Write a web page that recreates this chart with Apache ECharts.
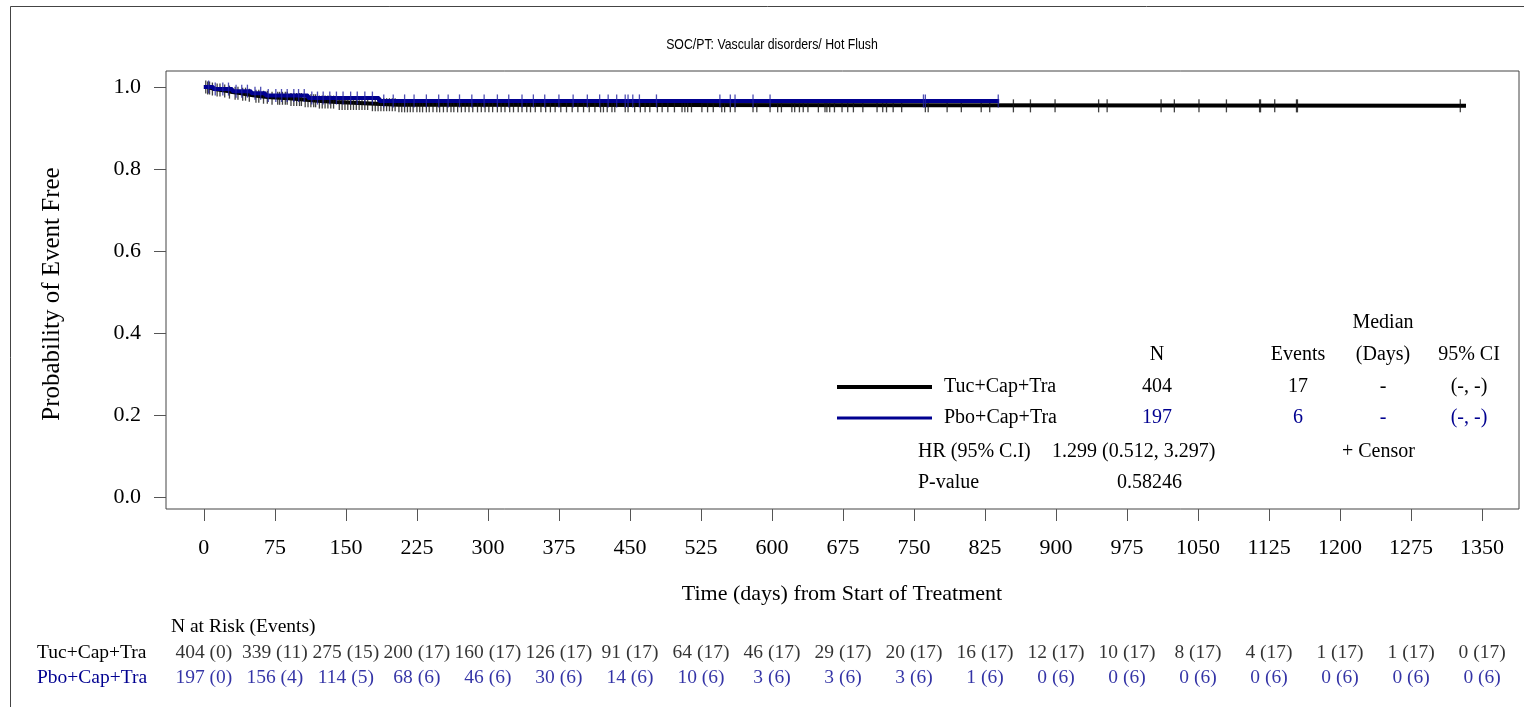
<!DOCTYPE html>
<html><head><meta charset="utf-8">
<script src="https://cdn.jsdelivr.net/npm/echarts@6/dist/echarts.min.js"></script>
<style>html,body{margin:0;padding:0;background:#fff}#c{width:1524px;height:707px}</style>
</head><body><div id="c"></div>
<script>
const chartTitle = 'SOC/PT: Vascular disorders/ Hot Flush';
const groupNames = ['Tuc+Cap+Tra', 'Pbo+Cap+Tra'];
const xTicks = [0,75,150,225,300,375,450,525,600,675,750,825,900,975,1050,1125,1200,1275,1350];
const yTicks = [0,0.2,0.4,0.6,0.8,1.0];

// KM step curves (event times and survival after each event)
const tucTimes = [0,3,8,12,18,25,30,38,45,52,60,70,90,105,120,140,175,205,1333];
const tucSurv  = [1,0.9975,0.9950,0.9925,0.9900,0.9875,0.9850,0.9825,0.9800,0.9775,0.9750,0.9724,0.9694,0.9663,0.9631,0.9598,0.9568,0.9540,0.9540];
const pboTimes = [0,10,30,50,65,110,185,840];
const pboSurv  = [1,0.9949,0.9898,0.9846,0.9793,0.9730,0.9660,0.9660];

// censor times
const tucCensor = [2,4,6,9,14,17,22,27,33,36,41,44,48,55,58,63,67,72,78,80,83,86,88,92,95,98,101,103,107,110,113,116,118,122,125,128,131,134,137,143,146,149,152,155,158,161,164,167,170,173,178,181,184,187,190,193,196,199,202,
206,209,212,215,218,221,225,228,231,235,238,242,246,249,253,257,261,264,268,272,276,280,284,289,293,297,301,305,310,314,318,323,327,332,336,341,345,350,356,361,366,371,377,383,389,395,401,407,413,419,
422,426,431,434,445,448,455,461,466,471,479,484,490,497,505,508,511,515,526,532,538,547,550,556,561,580,584,598,606,610,621,624,629,633,638,649,656,658,661,666,674,680,686,696,711,717,721,728,737,762,765,785,800,821,830,
855,873,899,945,954,1011,1025,1051,1080,1115,1116,1131,1154,1155,1327];
const pboCensor = [5,12,20,26,34,40,46,54,60,68,76,82,88,95,100,106,114,120,126,133,140,147,155,162,170,178,190,200,212,222,235,248,258,270,283,296,310,322,336,348,360,375,390,405,418,
427,436,445,448,453,460,478,545,556,561,580,598,760,762,839];

// risk table
const tucAtRisk = [404,339,275,200,160,126,91,64,46,29,20,16,12,10,8,4,1,1,0];
const tucEvents = [0,11,15,17,17,17,17,17,17,17,17,17,17,17,17,17,17,17,17];
const pboAtRisk = [197,156,114,68,46,30,14,10,3,3,3,1,0,0,0,0,0,0,0];
const pboEvents = [0,4,5,6,6,6,6,6,6,6,6,6,6,6,6,6,6,6,6];

// legend table texts
const legendN = [404, 197];
const legendEvents = [17, 6];
const legendMedian = ['-', '-'];
const legendCI = ['(-, -)', '(-, -)'];
const hrText = '1.299 (0.512, 3.297)';
const pText = '0.58246';

const BLACK = '#000000';
const BLUE = '#000090';
const SERIF = '"Liberation Serif", "Times New Roman", serif';
const SANS = '"Liberation Sans", Arial, sans-serif';

function survAt(times, surv, t) {
  let s = surv[0];
  for (let i = 0; i < times.length; i++) { if (times[i] <= t) s = surv[i]; }
  return s;
}
const kmData = (times, surv) => times.map((t, i) => [t, surv[i]]);
const censorData = (c, times, surv) => c.map(t => [t, survAt(times, surv, t)]);

const XMIN = -40, XMAX = 1389;
const riskFont = 19.5;
const tblFont = 20;

const riskSeries = (atRisk, events, row, color) => ({
  type: 'scatter', xAxisIndex: 1, yAxisIndex: 1, symbolSize: 0, silent: true,
  data: xTicks.map((t, i) => [t, row, atRisk[i] + ' (' + events[i] + ')']),
  label: { show: true, position: 'inside', formatter: p => p.data[2], color: color, fontFamily: SERIF, fontSize: riskFont }
});

const chart = echarts.init(document.getElementById('c'), null, { renderer: 'canvas', width: 1524, height: 707 });

const colX = { n: 1157, ev: 1298, med: 1383, ci: 1469 };
const rowY = [387, 418];
const T = (x, y, text, o, extra) => Object.assign({ type: 'text', x: x, y: y, style: Object.assign({ text: text, fontFamily: SERIF, fontSize: tblFont, fill: '#000', textAlign: 'center', textVerticalAlign: 'middle' }, o || {}) }, extra || {});

const graphics = [
  { type: 'rect', z: -10, shape: { x: 10.5, y: 6.5, width: 1600, height: 800 }, style: { fill: 'none', stroke: '#444', lineWidth: 1 } },
  T(772, 45, chartTitle, { fontFamily: SANS, fontSize: 15 }, { scaleX: 0.82 }),
  T(52, 294, 'Probability of Event Free', { fontSize: 25 }, { rotation: Math.PI / 2 }),
  T(842, 594, 'Time (days) from Start of Treatment', { fontSize: 22 }),
  T(171, 627, 'N at Risk (Events)', { textAlign: 'left', fontSize: riskFont }),
  T(colX.med, 323, 'Median'),
  T(colX.n, 355, 'N'),
  T(colX.ev, 355, 'Events'),
  T(colX.med, 355, '(Days)'),
  T(colX.ci, 355, '95% CI'),
  { type: 'line', shape: { x1: 837, y1: rowY[0], x2: 932, y2: rowY[0] }, style: { stroke: BLACK, lineWidth: 4 } },
  { type: 'line', shape: { x1: 837, y1: rowY[1], x2: 932, y2: rowY[1] }, style: { stroke: BLUE, lineWidth: 3 } },
  T(918, 452, 'HR (95% C.I)', { textAlign: 'left' }),
  T(1052, 452, hrText, { textAlign: 'left' }),
  T(1342, 452, '+ Censor', { textAlign: 'left' }),
  T(918, 483, 'P-value', { textAlign: 'left' }),
  T(1117, 483, pText, { textAlign: 'left' })
];
[0, 1].forEach(i => {
  const c = i === 0 ? '#000' : BLUE;
  graphics.push(T(944, rowY[i], groupNames[i], { textAlign: 'left' }));
  graphics.push(T(colX.n, rowY[i], String(legendN[i]), { fill: c }));
  graphics.push(T(colX.ev, rowY[i], String(legendEvents[i]), { fill: c }));
  graphics.push(T(colX.med, rowY[i], legendMedian[i], { fill: c }));
  graphics.push(T(colX.ci, rowY[i], legendCI[i], { fill: c }));
});

chart.setOption({
  animation: false,
  backgroundColor: '#fff',
  grid: [
    { left: 166, top: 71, right: 5, bottom: 198, show: true, borderColor: '#444', borderWidth: 1, backgroundColor: 'transparent' },
    { left: 166, top: 640, right: 5, height: 50, show: false }
  ],
  xAxis: [
    { type: 'value', gridIndex: 0, min: XMIN, max: XMAX, splitLine: { show: false }, axisLine: { show: false, onZero: false },
      axisTick: { show: true, customValues: xTicks, length: 12, inside: false, lineStyle: { color: '#555' } },
      axisLabel: { customValues: xTicks, margin: 28, fontFamily: SERIF, fontSize: 22, color: '#000', formatter: v => String(v) } },
    { type: 'value', gridIndex: 1, min: XMIN, max: XMAX, show: false }
  ],
  yAxis: [
    { type: 'value', gridIndex: 0, min: -0.0293, max: 1.039, splitLine: { show: false }, axisLine: { show: false, onZero: false },
      axisTick: { show: true, customValues: yTicks, length: 12, inside: false, lineStyle: { color: '#555' } },
      axisLabel: { customValues: yTicks, margin: 25, fontFamily: SERIF, fontSize: 22, color: '#000', formatter: v => v.toFixed(1) } },
    { type: 'category', gridIndex: 1, data: groupNames, inverse: true, axisLine: { show: false }, axisTick: { show: false }, splitLine: { show: false },
      axisLabel: { interval: 0, hideOverlap: false, margin: 129, align: 'left', fontFamily: SERIF, fontSize: riskFont, color: (v, i) => (i === 0 ? '#000' : BLUE) } }
  ],
  series: [
    { type: 'line', name: groupNames[0], step: 'end', data: kmData(tucTimes, tucSurv), showSymbol: false, symbol: 'none', lineStyle: { color: BLACK, width: 4 }, z: 2 },
    { type: 'scatter', data: censorData(tucCensor, tucTimes, tucSurv), symbol: 'rect', symbolSize: [1.3, 13], itemStyle: { color: '#111' }, z: 3 },
    { type: 'line', name: groupNames[1], step: 'end', data: kmData(pboTimes, pboSurv), showSymbol: false, symbol: 'none', lineStyle: { color: BLUE, width: 4 }, z: 4 },
    { type: 'scatter', data: censorData(pboCensor, pboTimes, pboSurv), symbol: 'rect', symbolSize: [1.3, 13], itemStyle: { color: '#2222a0' }, z: 5 },
    riskSeries(tucAtRisk, tucEvents, groupNames[0], '#000'),
    riskSeries(pboAtRisk, pboEvents, groupNames[1], BLUE)
  ],
  graphic: graphics
});
</script></body></html>
